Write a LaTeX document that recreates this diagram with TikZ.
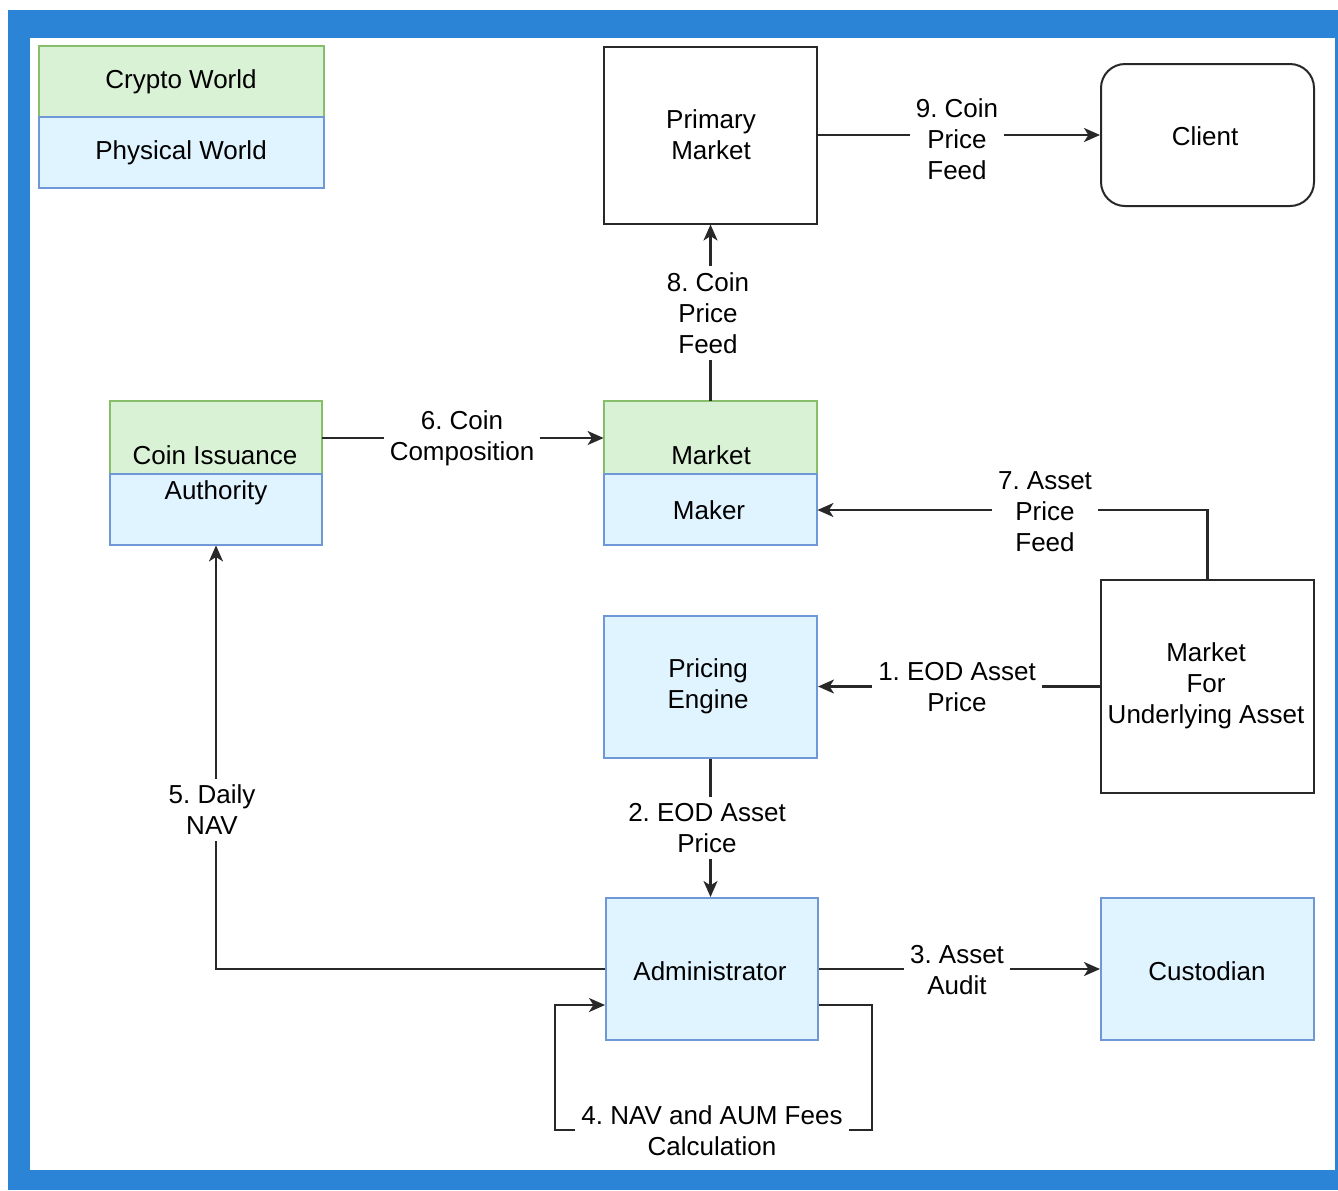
\documentclass[tikz,border=0pt]{standalone}
\usepackage{fontspec}
\setmainfont{Liberation Sans}
\usetikzlibrary{arrows.meta,calc}
\definecolor{frameblue}{RGB}{43,132,214}
\definecolor{gfill}{RGB}{217,242,213}
\definecolor{gline}{RGB}{135,190,105}
\definecolor{bfill}{RGB}{224,244,255}
\definecolor{bline}{RGB}{112,152,215}
\definecolor{ink}{RGB}{40,40,40}
\frenchspacing
\begin{document}
\begin{tikzpicture}[x=0.5pt,y=-0.5pt,
  txt/.style={font=\fontsize{13pt}{15.5pt}\selectfont\frenchspacing, align=center, inner sep=0pt, text=black},
  lbl/.style={txt, fill=white, inner sep=3pt},
  plainbox/.style={draw=ink, line width=1pt, fill=white},
  bluebox/.style={draw=bline, line width=1pt, fill=bfill},
  ghost/.style={draw=none, inner sep=0pt},
  conn/.style={draw=ink, line width=1.1pt},
  arr/.style={conn, -{Stealth[length=8pt,width=7pt,inset=2.2pt]}}]
\useasboundingbox (0,0) rectangle (1338,1190);
\fill[frameblue] (8,10) rectangle (1338,1190);
\fill[white] (30,38) rectangle (1335,1170);

% legend
\node[ghost, minimum width=142.5pt, minimum height=71pt] (leg) at (181.5,117) {};
\path[fill=gfill, draw=gline, line width=1pt] (leg.north west) rectangle (leg.east |- 0,117);
\path[fill=bfill, draw=bline, line width=1pt] (leg.west |- 0,117) rectangle (leg.south east);
\node[txt] (legc) at (181,82) {Crypto World};
\node[txt] (legp) at (181,153) {Physical World};

% boxes
\node[plainbox, minimum width=106.5pt, minimum height=88.5pt] (pm) at (710.5,135) {};
\node[txt] (pmt) at (711,135) {Primary\\Market};
\node[plainbox, rounded corners=12pt, minimum width=106.5pt, minimum height=71pt] (client) at (1207.5,135) {};
\node[txt] (clientt) at (1205,136) {Client};

\node[ghost, minimum width=106pt, minimum height=72pt] (cia) at (216,473) {};
\path[fill=gfill, draw=gline, line width=1pt] (cia.north west) rectangle (cia.east |- 0,474);
\path[fill=bfill, draw=bline, line width=1pt] (cia.west |- 0,474) rectangle (cia.south east);
\node[txt] (ciat1) at (215,455) {Coin Issuance};
\node[txt] (ciat2) at (216,493) {Authority};

\node[ghost, minimum width=106.5pt, minimum height=72pt] (mm) at (710.5,473) {};
\path[fill=gfill, draw=gline, line width=1pt] (mm.north west) rectangle (mm.east |- 0,474);
\path[fill=bfill, draw=bline, line width=1pt] (mm.west |- 0,474) rectangle (mm.south east);
\node[txt] (mmt1) at (711,455) {Market};
\node[txt] (mmt2) at (709,510) {Maker};

\node[plainbox, minimum width=106.5pt, minimum height=106.5pt] (mfua) at (1207.5,686.5) {};
\node[txt] (mfuat) at (1206,686) {Market\\For\\Underlying Asset};

\node[bluebox, minimum width=106.5pt, minimum height=71pt] (pe) at (710.5,686.5) {};
\node[txt] (pet) at (708,686) {Pricing\\Engine};

\node[bluebox, minimum width=106pt, minimum height=71pt] (adm) at (712,969) {};
\node[txt] (admt) at (710,971) {Administrator};

\node[bluebox, minimum width=106.5pt, minimum height=71pt] (cust) at (1207.5,969) {};
\node[txt] (custt) at (1207,971) {Custodian};

% connectors
\draw[arr] (pm.east) -- (client.west |- pm.east);
\node[lbl] (l9) at (957,139) {9. Coin\\Price\\Feed};

\draw[arr] (mm.north) -- (mm.north |- pm.south);
\node[lbl] (l8) at (708,313) {8. Coin\\Price\\Feed};

\coordinate (c6) at ($(cia.east)+(0,-35)$);
\draw[arr] (c6) -- (mm.west |- c6);
\node[lbl] (l6) at (462,438) {6. Coin\\Composition};

\coordinate (c7) at ($(mm.east)+(0,37)$);
\draw[arr] (mfua.north) |- (c7);
\node[lbl] (l7) at (1045,512) {7. Asset\\Price\\Feed};

\draw[arr] (mfua.west) -- (pe.east |- mfua.west);
\node[lbl] (l1) at (957,687) {1. EOD Asset\\Price};

\draw[arr] (pe.south) -- (pe.south |- adm.north);
\node[lbl] (l2) at (707,828) {2. EOD Asset\\Price};

\draw[arr] (adm.east) -- (cust.west |- adm.east);
\node[lbl] (l3) at (957,970) {3. Asset\\Audit};

\draw[arr] (adm.west) -| (cia.south);
\node[lbl] (l5) at (212,810) {5. Daily\\NAV};

\coordinate (c4a) at ($(adm.east)+(0,36)$);
\coordinate (c4b) at ($(adm.west)+(0,36)$);
\coordinate (c4r) at (872,1130);
\coordinate (c4l) at (555,1130);
\draw[arr] (c4a) -| (c4r) -- (c4l) |- (c4b);
\node[lbl] (l4) at (712,1131) {4. NAV and AUM Fees\\Calculation};
\end{tikzpicture}
\end{document}
